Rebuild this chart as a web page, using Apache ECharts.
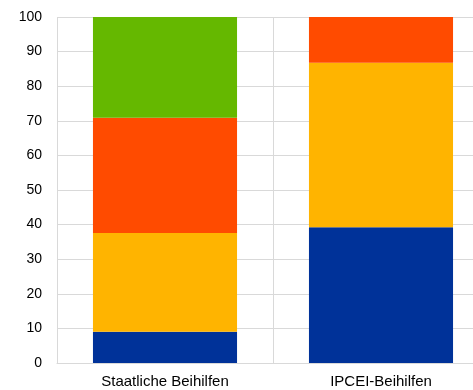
<!DOCTYPE html>
<html>
<head>
<meta charset="utf-8">
<script src="https://cdn.jsdelivr.net/npm/echarts@6/dist/echarts.min.js"></script>
<style>
html,body{margin:0;padding:0;background:#fff;}
#chart{width:473px;height:390px;}
</style>
</head>
<body>
<div id="chart"></div>
<script>
// Share of aid by segment, stacked to 100 per category
const categories = ['Staatliche Beihilfen', 'IPCEI-Beihilfen'];
const segBlue   = [9.0, 39.2];
const segYellow = [28.6, 47.6];
const segRed    = [33.3, 13.2];
const segGreen  = [29.1, 0];
const yTicks = { min: 0, max: 100, interval: 10 };

const colors = ['#003299', '#FFB400', '#FF4B00', '#65B800'];
const segments = [segBlue, segYellow, segRed, segGreen];

const chart = echarts.init(document.getElementById('chart'), null, { renderer: 'canvas' });
chart.setOption({
  animation: false,
  grid: { left: 57, top: 17, width: 432, height: 346, containLabel: false, outerBoundsMode: 'none' },
  xAxis: {
    type: 'category',
    data: categories,
    axisLine: { show: true, lineStyle: { color: '#d9d9d9', width: 1 } },
    axisTick: { show: false },
    splitLine: { show: true, lineStyle: { color: '#d9d9d9', width: 1 } },
    axisLabel: { color: '#000', fontFamily: 'Liberation Sans, Arial, sans-serif', fontSize: 15, margin: 11 }
  },
  yAxis: {
    type: 'value',
    min: yTicks.min, max: yTicks.max, interval: yTicks.interval,
    axisLine: { show: false },
    axisTick: { show: false },
    splitLine: { show: true, lineStyle: { color: '#d9d9d9', width: 1 } },
    axisLabel: { color: '#000', fontFamily: 'Liberation Sans, Arial, sans-serif', fontSize: 14, margin: 15 }
  },
  series: segments.map((d, i) => ({
    type: 'bar',
    stack: 'total',
    data: d,
    barWidth: '66.7%',
    itemStyle: { color: colors[i] }
  }))
});
</script>
</body>
</html>
